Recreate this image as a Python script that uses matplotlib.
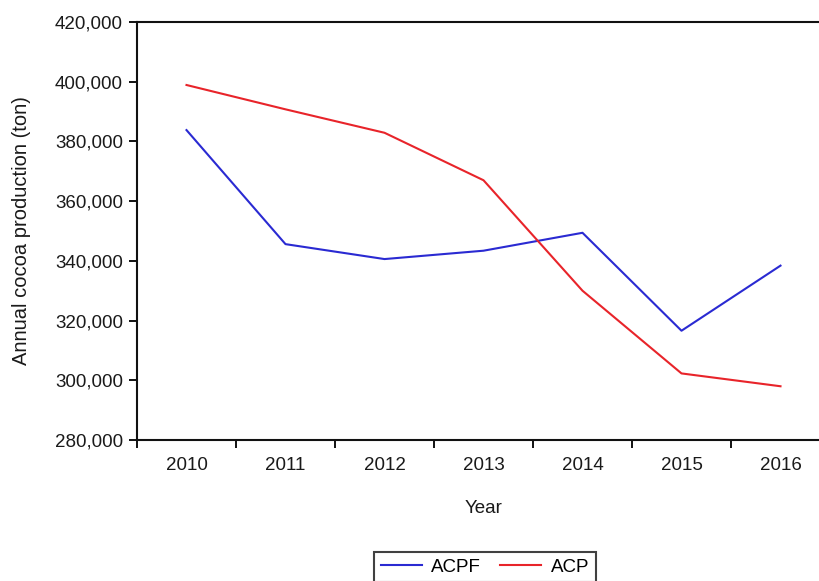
import matplotlib
matplotlib.use("Agg")
import matplotlib.pyplot as plt
from matplotlib.ticker import FuncFormatter, FixedLocator

plt.rcParams['font.family'] = ['Liberation Sans', 'DejaVu Sans']

years = ["2010", "2011", "2012", "2013", "2014", "2015", "2016"]
acpf = [383800, 345600, 340600, 343400, 349400, 316600, 338400]
acp = [398900, 390750, 382900, 367000, 330000, 302300, 298000]
y_ticks = [280000, 300000, 320000, 340000, 360000, 380000, 400000, 420000]

fig = plt.figure(figsize=(8.2, 5.81), dpi=100)
ax = fig.add_axes([137/820, 1-440/581, 693/820, 418/581])

x = list(range(len(years)))
l1, = ax.plot(x, acpf, color='#2a2ad2', lw=1.5, label='ACPF')
l2, = ax.plot(x, acp, color='#e8242a', lw=1.5, label='ACP')

ax.set_xlim(-0.5, len(years) - 0.5)
ax.set_ylim(280000, 420000)
ax.set_yticks(y_ticks)
ax.yaxis.set_major_formatter(FuncFormatter(lambda v, p: f"{int(v):,}"))

# category axis: ticks on boundaries, labels centered
ax.xaxis.set_major_locator(FixedLocator([i - 0.5 for i in range(len(years) + 1)]))
ax.xaxis.set_minor_locator(FixedLocator(x))
ax.set_xticklabels([''] * (len(years) + 1))
ax.set_xticks(x, minor=True)
ax.set_xticklabels(years, minor=True)
ax.tick_params(axis='x', which='minor', length=0, pad=12, labelsize=13.5, labelcolor='#1a1a1a')
ax.tick_params(axis='x', which='major', length=5.5, width=1.4, direction='out', color='#111111')
ax.tick_params(axis='y', length=6, width=1.4, direction='out', pad=4, labelsize=13.5,
               labelcolor='#1a1a1a', color='#111111')

for s in ['left', 'bottom', 'top']:
    ax.spines[s].set_linewidth(1.5)
    ax.spines[s].set_color('#111111')
ax.spines['right'].set_visible(False)

ax.set_ylabel('Annual cocoa production (ton)', fontsize=14.5, color='#1a1a1a', labelpad=17)
ax.set_xlabel('Year', fontsize=13.5, color='#1a1a1a', labelpad=19)

leg = fig.legend(handles=[l1, l2], loc='upper center', bbox_to_anchor=(485/820, 1-552/581),
                 ncol=2, frameon=True, fancybox=False, fontsize=13.5, handlelength=2.2,
                 handletextpad=0.5, columnspacing=1.0, borderpad=0.35, borderaxespad=0)
leg.get_frame().set_edgecolor('#111111')
leg.get_frame().set_linewidth(1.5)

fig.savefig('out.png', dpi=100)
